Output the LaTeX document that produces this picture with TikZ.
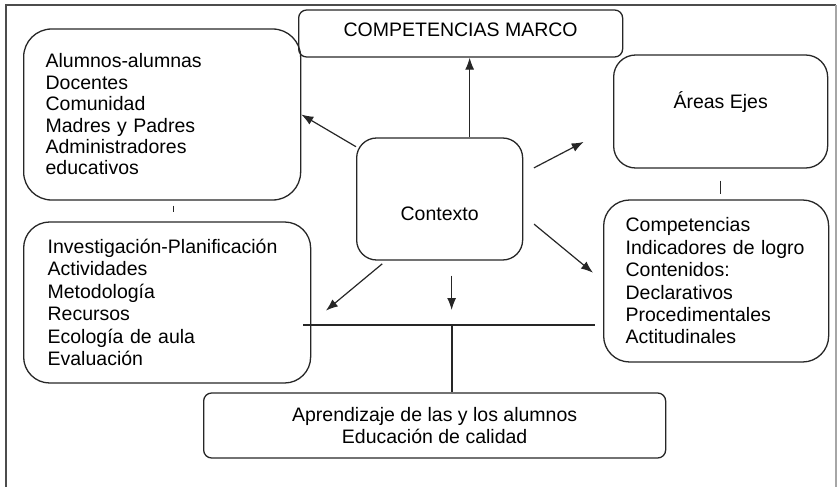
\documentclass[tikz,border=0pt]{standalone}
\usepackage{fontspec}
\setmainfont{Liberation Sans}
\usepackage{tikz}
\usetikzlibrary{shapes}
\usetikzlibrary{arrows.meta}
\usetikzlibrary{positioning}
\usetikzlibrary{calc}
\tikzstyle{block} = [draw=black!85, line width=1.3pt, rounded corners=24pt,
inner xsep=22pt, inner ysep=4pt, font=\fontsize{19.5}{22.4}\selectfont]
\tikzstyle{flat} = [block, rounded corners=8pt]
\tikzstyle{line} = [draw=black!85, line width=1.2pt]
\tikzstyle{arr} = [line, ->, >={Latex[length=12pt,width=9pt]}]

\begin{document}
\begin{tikzpicture}[x=1pt, y=1pt]
  \useasboundingbox (0,0) rectangle (839,-487);
  \coordinate (origin) at (0,0);
  % frame
  \coordinate[right = 6pt of origin, yshift = -487pt] (fBL);
  \coordinate[right = 6pt of origin, yshift = -5pt] (fTL);
  \coordinate[right = 836pt of origin, yshift = -5pt] (fTR);
  \coordinate[right = 836pt of origin, yshift = -487pt] (fBR);
  \draw[line, draw=black!70] (fBL) -- (fTL) -- (fTR);
  \draw[line, draw=black!35] (fTR) -- (fBR);
  % center
  \node[block, rounded corners=20pt, minimum width=166pt, minimum height=122pt,
        text height=42pt, text depth=0pt,
        right = 356pt of origin, yshift = -199pt] (ctx) {Contexto};
  % top
  \node[flat, minimum width=324pt, minimum height=47pt, text depth=7pt,
        right = 298pt of origin, yshift = -33.5pt] (marco) {COMPETENCIAS MARCO};
  % left side
  \node[block, rounded corners=28pt, minimum width=277pt, minimum height=171pt,
        text width=233pt, align=left, font=\fontsize{19.5}{21.4}\selectfont,
        right = 23pt of origin, yshift = -114.5pt] (who)
        {Alumnos-alumnas\\Docentes\\Comunidad\\Madres y Padres\\Administradores\\educativos};
  \node[block, rounded corners=26pt, minimum width=287pt, minimum height=161pt,
        text width=239pt, inner xsep=24pt, align=left,
        right = 23pt of origin, yshift = -302.5pt] (plan)
        {Investigación-Planificación\\Actividades\\Metodología\\Recursos\\Ecología de aula\\Evaluación};
  % right side
  \node[block, rounded corners=22pt, minimum width=214pt, minimum height=113pt,
        text height=14pt, text depth=19pt,
        right = 613pt of origin, yshift = -111.5pt] (areas) {Áreas Ejes};
  \node[block, rounded corners=26pt, minimum width=225pt, minimum height=162pt,
        text width=181pt, align=left,
        right = 603pt of origin, yshift = -281pt] (comp)
        {Competencias\\Indicadores de logro\\Contenidos:\\Declarativos\\Procedimentales\\Actitudinales};
  % bottom
  \node[flat, minimum width=462pt, minimum height=65pt, align=center,
        right = 203pt of origin, yshift = -425.5pt] (apr)
        {Aprendizaje de las y los alumnos\\Educación de calidad};
  \coordinate[right = 303pt of origin, yshift = -325pt] (busL);
  \coordinate[right = 595pt of origin, yshift = -325pt] (busR);
  \coordinate[right = 452pt of origin, yshift = -325pt] (bus);

  % edges
  \draw[arr] ([xshift=30pt]ctx.north) -- ([xshift=30pt]ctx.north |- marco.south);
  \draw[arr] (ctx.148) -- (who.east);
  \draw[arr, shorten <=12pt, shorten >=33pt] (ctx.17.7) -- (areas.188.2);
  \draw[arr, shorten <=14pt, shorten >=13pt] (ctx.-11.8) -- (comp.west);
  \draw[arr, shorten <=5pt, shorten >=19pt] (ctx.229) -- (plan.352.3);
  \draw[arr, shorten <=15pt, shorten >=15pt] ([xshift=12pt]ctx.south) -- ([xshift=12pt]ctx.south |- bus);
  % links
  \draw[line, shorten <=5pt, shorten >=9pt] ([xshift=11.5pt]who.south) -- ([xshift=11.5pt]who.south |- plan.north);
  \draw[line, shorten <=12pt, shorten >=5pt] (areas.south) -- (areas.south |- comp.north);
  \draw[line] (busL) -- (busR);
  \draw[line] (bus) -- (bus |- apr.north);
\end{tikzpicture}
\end{document}
